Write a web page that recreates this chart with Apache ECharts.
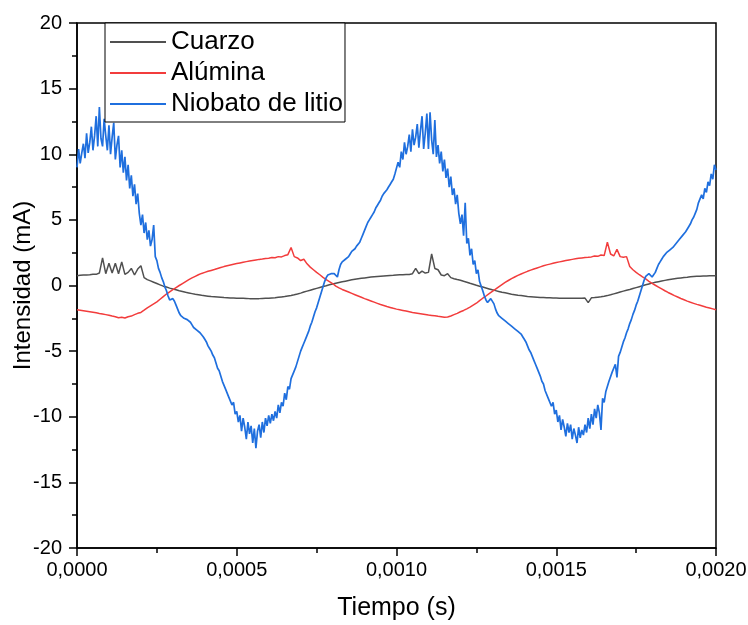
<!DOCTYPE html>
<html>
<head>
<meta charset="utf-8">
<script src="https://cdn.jsdelivr.net/npm/echarts@6/dist/echarts.min.js"></script>
<style>
  html, body { margin: 0; padding: 0; background: #ffffff; }
  #chart { width: 748px; height: 625px; }
</style>
</head>
<body>
<div id="chart"></div>
<script>
// Current through three crystals (mA) sampled over two cycles of the drive signal.
const seriesNames = ['Cuarzo', 'Alúmina', 'Niobato de litio'];
const xTickLabels = ['0,0000', '0,0005', '0,0010', '0,0015', '0,0020'];

// Sample spacing of each record (s)
const pasoCuarzo = 1e-5;
const pasoAlumina = 1e-5;
const pasoNiobato = 5e-6;

// Cuarzo, one value every 10 µs from 0 to 2 ms
const cuarzo = [
  0.75, 0.78, 0.8, 0.8, 0.82, 0.85, 0.85, 0.95, 2.1, 0.9, 1.7, 0.95, 1.7, 0.9, 1.8, 0.85, 1.0, 1.3, 0.8, 1.25,
  1.5, 0.6, 0.45, 0.35, 0.25, 0.15, 0.05, -0.05, -0.12, -0.2, -0.27, -0.33, -0.4, -0.46, -0.52, -0.57, -0.62, -0.67, -0.71, -0.75,
  -0.78, -0.81, -0.84, -0.86, -0.88, -0.9, -0.92, -0.93, -0.95, -0.96, -0.97, -0.98, -0.98, -0.99, -1.0, -1.0, -1.0, -1.0, -0.99, -0.98,
  -0.97, -0.95, -0.93, -0.9, -0.87, -0.84, -0.8, -0.76, -0.71, -0.65, -0.58, -0.5, -0.43, -0.36, -0.29, -0.22, -0.15, -0.08, -0.02, 0.05,
  0.11, 0.17, 0.23, 0.28, 0.33, 0.38, 0.43, 0.47, 0.51, 0.55, 0.58, 0.61, 0.64, 0.67, 0.69, 0.71, 0.73, 0.75, 0.77, 0.78,
  0.8, 0.81, 0.82, 0.83, 0.84, 0.9, 1.3, 0.9, 1.1, 0.95, 1.0, 2.4, 1.3, 1.2, 0.8, 0.75, 0.9, 0.6, 0.52, 0.45,
  0.4, 0.32, 0.25, 0.17, 0.1, 0.02, -0.05, -0.12, -0.19, -0.26, -0.33, -0.39, -0.45, -0.51, -0.56, -0.61, -0.66, -0.7, -0.74, -0.77,
  -0.8, -0.83, -0.85, -0.87, -0.89, -0.91, -0.92, -0.93, -0.94, -0.95, -0.96, -0.97, -0.97, -0.98, -0.98, -0.98, -0.98, -0.97, -0.97, -0.96,
  -1.3, -0.94, -0.92, -0.89, -0.86, -0.82, -0.77, -0.71, -0.64, -0.57, -0.5, -0.43, -0.36, -0.3, -0.23, -0.16, -0.09, -0.02, 0.05, 0.12,
  0.18, 0.24, 0.29, 0.34, 0.39, 0.43, 0.47, 0.51, 0.55, 0.58, 0.61, 0.63, 0.66, 0.68, 0.7, 0.71, 0.72, 0.73, 0.74, 0.75,
  0.75
];

// Alúmina, one value every 10 µs from 0 to 2 ms
const alumina = [
  -1.85, -1.88, -1.92, -1.96, -2.0, -2.04, -2.08, -2.13, -2.17, -2.22, -2.27, -2.33, -2.38, -2.45, -2.42, -2.48, -2.38, -2.33, -2.22, -2.12,
  -2.05, -1.88, -1.7, -1.55, -1.4, -1.25, -1.05, -0.85, -0.65, -0.48, -0.32, -0.16, 0.0, 0.15, 0.3, 0.45, 0.58, 0.7, 0.82, 0.92,
  1.0, 1.08, 1.15, 1.22, 1.3, 1.37, 1.44, 1.5, 1.56, 1.62, 1.67, 1.72, 1.77, 1.82, 1.87, 1.91, 1.95, 1.99, 2.02, 2.06,
  2.08, 2.13, 2.12, 2.2, 2.18, 2.28, 2.35, 2.9, 2.2, 2.1, 1.9, 2.0, 1.65, 1.4, 1.2, 1.0, 0.82, 0.62, 0.45, 0.3,
  0.15, -0.05, -0.18, -0.3, -0.4, -0.5, -0.6, -0.7, -0.8, -0.9, -1.0, -1.09, -1.18, -1.27, -1.36, -1.45, -1.52, -1.6, -1.67, -1.74,
  -1.8, -1.85, -1.9, -1.95, -2.0, -2.05, -2.09, -2.13, -2.17, -2.21, -2.25, -2.28, -2.31, -2.35, -2.38, -2.42, -2.4, -2.32, -2.22, -2.12,
  -2.0, -1.9, -1.78, -1.65, -1.5, -1.35, -1.15, -0.97, -0.8, -0.62, -0.45, -0.28, -0.1, 0.07, 0.23, 0.38, 0.52, 0.65, 0.77, 0.88,
  0.98, 1.08, 1.17, 1.26, 1.34, 1.42, 1.5, 1.57, 1.63, 1.69, 1.75, 1.8, 1.85, 1.9, 1.95, 1.99, 2.03, 2.07, 2.1, 2.13,
  2.15, 2.18, 2.25, 2.22, 2.32, 2.28, 3.3, 2.4, 2.25, 2.75, 2.2, 2.15, 2.2, 1.45, 1.2, 1.0, 0.82, 0.65, 0.5, 0.32,
  0.16, 0.02, -0.12, -0.26, -0.4, -0.53, -0.65, -0.77, -0.88, -0.99, -1.09, -1.19, -1.28, -1.36, -1.44, -1.51, -1.58, -1.65, -1.71, -1.78,
  -1.85
];

// Niobato de litio, one value every 5 µs from 0 to 2 ms
const niobato = [
  9.0, 10.4, 9.3, 10.1, 10.8, 9.7, 11.6, 10.1, 10.9, 12.1, 10.3, 11.4, 12.9, 10.6, 13.6, 11.2, 10.6, 12.7, 11.4, 10.3,
  12.2, 10.0, 11.3, 12.4, 9.6, 10.7, 11.4, 9.0, 10.3, 8.6, 9.8, 8.0, 9.2, 7.4, 8.4, 6.8, 7.7, 6.2, 7.0, 5.5,
  4.6, 5.4, 4.0, 4.8, 3.5, 4.2, 3.0, 3.5, 4.6, 2.2, 1.9, 1.3, 1.0, 0.6, 0.3, -0.1, -0.4, -0.8, -1.1, -1.2,
  -1.0, -1.2, -1.5, -1.8, -2.1, -2.3, -2.4, -2.5, -2.5, -2.6, -2.6, -2.8, -3.0, -3.2, -3.3, -3.4, -3.5, -3.6, -3.7, -3.9,
  -4.1, -4.3, -4.6, -4.8, -5.0, -5.3, -5.5, -5.9, -6.3, -6.5, -6.9, -7.3, -7.4, -7.9, -7.9, -8.5, -8.4, -9.1, -8.9, -9.8,
  -9.6, -10.4, -9.9, -11.1, -10.1, -10.8, -11.7, -10.4, -11.3, -10.7, -12.0, -10.9, -12.4, -11.1, -10.6, -11.6, -10.4, -11.2, -10.1, -10.7,
  -9.9, -10.5, -9.8, -10.3, -9.6, -10.1, -9.1, -9.7, -8.9, -9.2, -8.2, -8.7, -7.7, -7.9, -7.1, -7.0, -6.5, -6.2, -5.8, -5.4,
  -5.0, -4.7, -4.4, -4.1, -3.8, -3.5, -3.1, -2.8, -2.4, -2.0, -1.7, -1.3, -0.9, -0.5, -0.1, 0.3, 0.6, 0.8, 0.85, 0.9,
  0.95, 0.9, 0.75, 0.65, 1.2, 1.6, 1.8, 1.9, 2.0, 2.1, 2.2, 2.4, 2.6, 2.7, 2.8, 3.0, 3.1, 3.3, 3.6, 3.9,
  4.2, 4.5, 4.8, 5.0, 5.2, 5.4, 5.6, 5.9, 6.1, 6.3, 6.5, 6.8, 7.0, 7.1, 7.3, 7.5, 7.7, 7.9, 8.1, 8.5,
  8.6, 9.4, 9.0, 10.2, 9.6, 10.9, 10.0, 10.6, 11.5, 10.2, 11.9, 10.7, 11.3, 12.3, 10.5, 11.8, 12.9, 10.4, 11.6, 13.1,
  10.4, 13.2, 11.1, 10.0, 12.6, 9.8, 10.7, 9.3, 10.2, 8.7, 9.6, 8.2, 8.9, 7.5, 8.3, 6.9, 7.4, 6.2, 6.9, 5.5,
  4.7, 5.4, 3.8, 6.3, 3.2, 3.6, 2.3, 2.8, 1.6, 1.9, 0.9, 1.2, 0.3, 0.3, -0.4, -0.8, -1.1, -1.3, -1.2, -1.0,
  -1.1, -1.4, -1.8, -2.1, -2.3, -2.4, -2.5, -2.6, -2.7, -2.8, -2.9, -3.0, -3.1, -3.2, -3.3, -3.4, -3.5, -3.6, -3.7, -3.9,
  -4.1, -4.3, -4.6, -4.9, -5.1, -5.4, -5.7, -6.0, -6.3, -6.6, -6.9, -7.3, -7.5, -8.0, -7.9, -8.6, -8.5, -9.2, -8.9, -9.8,
  -9.5, -10.4, -9.9, -11.0, -10.2, -10.8, -11.5, -10.5, -11.2, -10.6, -11.7, -10.9, -11.4, -12.0, -10.8, -11.6, -11.0, -11.4, -10.6, -11.2,
  -10.1, -10.9, -9.8, -10.6, -9.4, -10.1, -9.1, -9.7, -11.0, -8.6, -8.9, -8.1, -8.0, -7.3, -7.2, -6.6, -6.6, -6.0, -7.0, -5.4,
  -5.1, -4.7, -4.3, -4.0, -3.6, -3.3, -2.9, -2.6, -2.2, -1.9, -1.5, -1.2, -0.8, -0.4, 0.0, 0.4, 0.7, 0.85, 0.9, 0.8,
  0.65, 0.8, 1.0, 1.3, 1.6, 1.8, 2.0, 2.2, 2.3, 2.5, 2.6, 2.7, 2.8, 2.9, 3.0, 3.2, 3.3, 3.5, 3.6, 3.8,
  3.9, 4.1, 4.2, 4.5, 4.7, 5.0, 5.2, 5.5, 5.8, 6.3, 6.2, 6.9, 6.6, 7.4, 7.1, 7.9, 7.6, 8.5, 8.1, 9.2,
  8.8
];

const FONT = '"Liberation Sans", Arial, Helvetica, sans-serif';

function toPairs(values, paso) {
  return values.map((v, i) => [i * paso, v]);
}

const chart = echarts.init(document.getElementById('chart'), null, { renderer: 'canvas' });

const axisStroke = { color: '#000000', width: 1.5 };

chart.setOption({
  animation: false,
  backgroundColor: '#ffffff',
  textStyle: { fontFamily: FONT },
  grid: {
    left: 77, right: 32, top: 23, bottom: 77,
    outerBoundsMode: 'none',
    containLabel: false,
    show: true, borderColor: '#000000', borderWidth: 1.5, backgroundColor: 'transparent'
  },
  legend: {
    orient: 'vertical',
    left: 105, top: 23,
    padding: [6, 2, 5, 5],
    itemGap: 5,
    itemWidth: 56, itemHeight: 2,
    icon: 'rect',
    backgroundColor: '#ffffff',
    borderColor: '#000000', borderWidth: 1, borderRadius: 0,
    textStyle: { fontSize: 26, color: '#000000', fontFamily: FONT, lineHeight: 26 },
    data: seriesNames
  },
  xAxis: {
    type: 'value',
    min: 0, max: 0.002, interval: 0.0005,
    name: 'Tiempo (s)',
    nameLocation: 'middle', nameGap: 48,
    nameTextStyle: { fontSize: 25, color: '#000000', fontFamily: FONT },
    axisLine: { onZero: false, lineStyle: axisStroke },
    axisTick: { show: true, inside: false, length: 8, lineStyle: axisStroke },
    minorTick: { show: true, splitNumber: 2, length: 5, lineStyle: axisStroke },
    splitLine: { show: false },
    minorSplitLine: { show: false },
    axisLabel: {
      fontSize: 20, color: '#000000', fontFamily: FONT, margin: 12,
      formatter: v => xTickLabels[Math.round(v / 0.0005)]
    }
  },
  yAxis: {
    type: 'value',
    min: -20, max: 20, interval: 5,
    name: 'Intensidad (mA)',
    nameLocation: 'middle', nameGap: 42, nameRotate: 90,
    nameMoveOverlap: false,
    nameTextStyle: { fontSize: 24, color: '#000000', fontFamily: FONT },
    axisLine: { onZero: false, lineStyle: axisStroke },
    axisTick: { show: true, inside: false, length: 8, lineStyle: axisStroke },
    minorTick: { show: true, splitNumber: 2, length: 5, lineStyle: axisStroke },
    splitLine: { show: false },
    minorSplitLine: { show: false },
    axisLabel: { fontSize: 20, color: '#000000', fontFamily: FONT, margin: 15 }
  },
  series: [
    {
      name: seriesNames[0], type: 'line', symbol: 'none', showSymbol: false,
      data: toPairs(cuarzo, pasoCuarzo),
      lineStyle: { color: '#505050', width: 1.5 }, itemStyle: { color: '#505050' }
    },
    {
      name: seriesNames[1], type: 'line', symbol: 'none', showSymbol: false,
      data: toPairs(alumina, pasoAlumina),
      lineStyle: { color: '#f23c3c', width: 1.5 }, itemStyle: { color: '#f23c3c' }
    },
    {
      name: seriesNames[2], type: 'line', symbol: 'none', showSymbol: false,
      data: toPairs(niobato, pasoNiobato),
      lineStyle: { color: '#1f6fde', width: 1.7 }, itemStyle: { color: '#1f6fde' }
    }
  ]
});
</script>
</body>
</html>
